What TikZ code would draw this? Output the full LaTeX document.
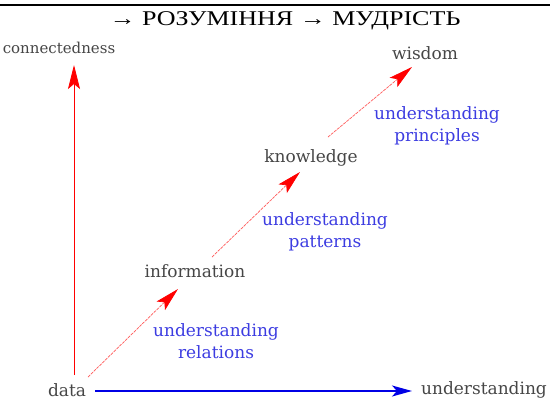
\documentclass[tikz,border=0pt]{standalone}
\usepackage{fontspec}
\setmainfont{Liberation Serif}
\newfontfamily\slabfont{DejaVu Serif}
\usetikzlibrary{arrows.meta}
\definecolor{lblue}{RGB}{60,60,225}
\definecolor{tgray}{RGB}{70,70,70}

\begin{document}
\begin{tikzpicture}[x=1pt, y=-1pt,
    word/.style={font=\slabfont\fontsize{17}{19}\selectfont, text=tgray, inner sep=2pt},
    skill/.style={word, text=lblue, align=center, font=\slabfont\fontsize{17}{21.5}\selectfont},
    uparr/.style={draw=red, line width=0.8pt, -{Stealth[length=24pt, width=12pt, inset=5pt]}},
    steparr/.style={draw=red!65, line width=0.7pt, dash pattern=on 3pt off 1pt,
      -{Stealth[length=24pt, width=12pt, inset=5pt, color=red]}},
    axisarr/.style={draw=blue!90!black, line width=1.6pt, -{Stealth[length=20pt, width=11pt, inset=5pt]}},
  ]
  \useasboundingbox (0,0) rectangle (550,408);

  % heading
  \draw[line width=2pt] (0,5) -- (550,5);
  \node (title) at (285,21) {\scalebox{1.24}[1]{\fontsize{21}{24}\selectfont → РОЗУМІННЯ → МУДРІСТЬ}};

  % levels
  \node[word] (data) at (67,390) {data};
  \node[word] (understanding) at (484,390) {understanding};
  \node[word, font=\slabfont\fontsize{15}{17}\selectfont] (connectedness) at (59,48) {connectedness};
  \node[word] (information) at (195,271) {information};
  \node[word] (knowledge) at (311,158) {knowledge};
  \node[word] (wisdom) at (425,53) {wisdom};

  % axes
  \draw[uparr] ([shift={(7,-15)}]data.center) -- ([shift={(15,17)}]connectedness.center);
  \draw[axisarr] ([shift={(28,1)}]data.center) -- ([shift={(-72,1)}]understanding.center);

  % steps
  \draw[steparr] ([shift={(21,-13)}]data.center) -- ([shift={(-17,18)}]information.center);
  \draw[steparr] ([shift={(17,-14)}]information.center) -- ([shift={(-11,14)}]knowledge.center);
  \draw[steparr] ([shift={(17,-21)}]knowledge.center) -- ([shift={(-13,14)}]wisdom.center);

  % what each step means
  \node[skill] (relations) at (216,341) {understanding\\relations};
  \node[skill] (patterns) at (325,232) {understanding\\patterns};
  \node[skill] (principles) at (437,126) {understanding\\principles};

\end{tikzpicture}
\end{document}
